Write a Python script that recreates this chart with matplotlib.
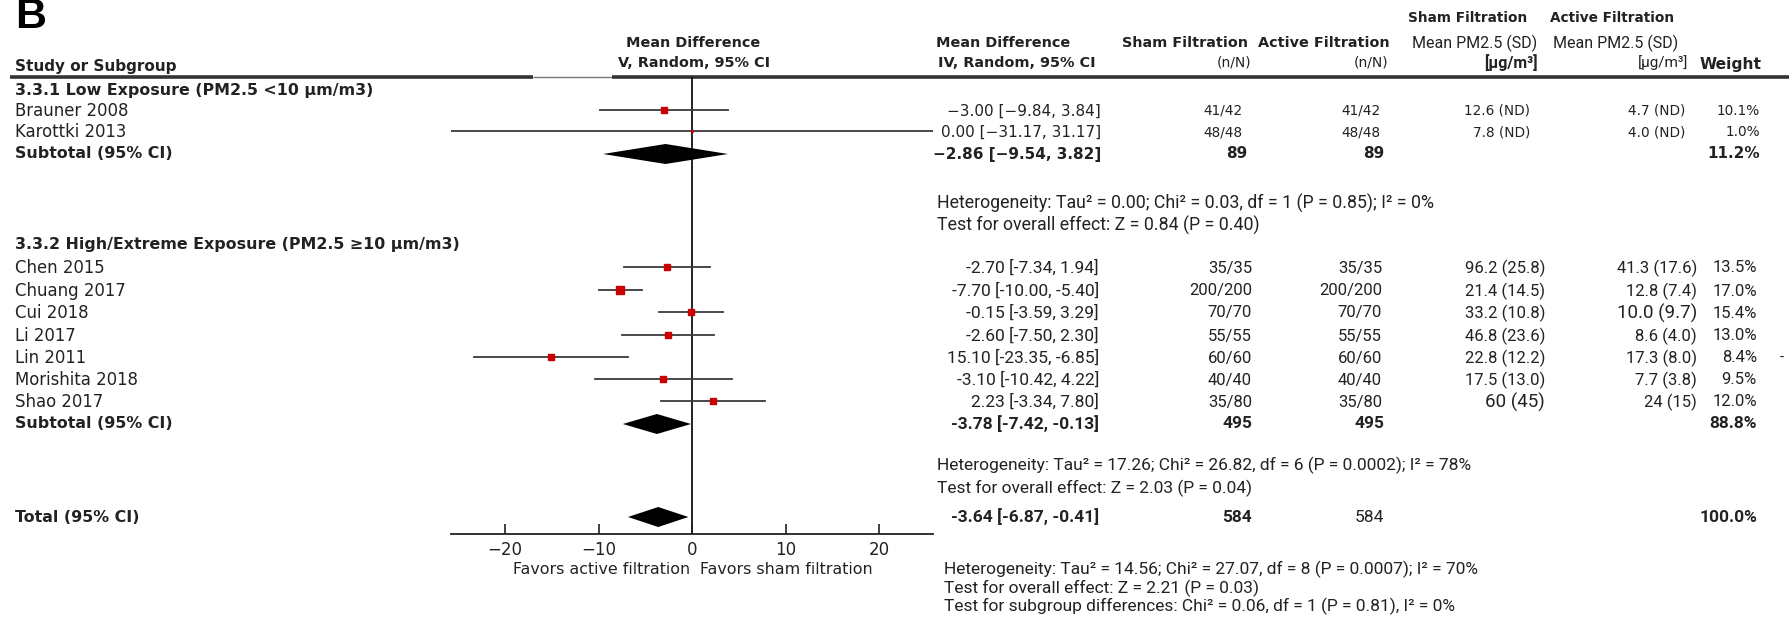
import matplotlib
matplotlib.use("Agg")
import matplotlib.pyplot as plt
from matplotlib import font_manager

# ---- data ----
studies = ['Brauner 2008', 'Karottki 2013', 'Chen 2015', 'Chuang 2017', 'Cui 2018',
           'Li 2017', 'Lin 2011', 'Morishita 2018', 'Shao 2017']
group = [0, 0, 1, 1, 1, 1, 1, 1, 1]
md = [-3.00, 0.00, -2.70, -7.70, -0.15, -2.60, -15.10, -3.10, 2.23]
ci_lo = [-9.84, -31.17, -7.34, -10.00, -3.59, -7.50, -23.35, -10.42, -3.34]
ci_hi = [3.84, 31.17, 1.94, -5.40, 3.29, 2.30, -6.85, 4.22, 7.80]
md_text = ['−3.00 [−9.84, 3.84]', '0.00 [−31.17, 31.17]', '-2.70 [-7.34, 1.94]',
           '-7.70 [-10.00, -5.40]', '-0.15 [-3.59, 3.29]', '-2.60 [-7.50, 2.30]',
           '15.10 [-23.35, -6.85]', '-3.10 [-10.42, 4.22]', '2.23 [-3.34, 7.80]']
sham_n = ['41/42', '48/48', '35/35', '200/200', '70/70', '55/55', '60/60', '40/40', '35/80']
active_n = ['41/42', '48/48', '35/35', '200/200', '70/70', '55/55', '60/60', '40/40', '35/80']
sham_pm = ['12.6 (ND)', '7.8 (ND)', '96.2 (25.8)', '21.4 (14.5)', '33.2 (10.8)',
           '46.8 (23.6)', '22.8 (12.2)', '17.5 (13.0)', '60 (45)']
active_pm = ['4.7 (ND)', '4.0 (ND)', '41.3 (17.6)', '12.8 (7.4)', '10.0 (9.7)',
             '8.6 (4.0)', '17.3 (8.0)', '7.7 (3.8)', '24 (15)']
weight = [10.1, 1.0, 13.5, 17.0, 15.4, 13.0, 8.4, 9.5, 12.0]
weight_text = ['10.1%', '1.0%', '13.5%', '17.0%', '15.4%', '13.0%', '8.4%', '9.5%', '12.0%']

group_titles = ['3.3.1 Low Exposure (PM2.5 <10 µm/m3)',
                '3.3.2 High/Extreme Exposure (PM2.5 ≥10 µm/m3)']

sub_labels = ['Subtotal (95% CI)', 'Subtotal (95% CI)', 'Total (95% CI)']
sub_md = [-2.86, -3.78, -3.64]
sub_lo = [-9.54, -7.42, -6.87]
sub_hi = [3.82, -0.13, -0.41]
sub_text = ['−2.86 [−9.54, 3.82]', '-3.78 [-7.42, -0.13]', '-3.64 [-6.87, -0.41]']
sub_sham = ['89', '495', '584']
sub_active = ['89', '495', '584']
sub_weight = ['11.2%', '88.8%', '100.0%']

stats = [
    ['Heterogeneity: Tau² = 0.00; Chi² = 0.03, df = 1 (P = 0.85); I² = 0%',
     'Test for overall effect: Z = 0.84 (P = 0.40)'],
    ['Heterogeneity: Tau² = 17.26; Chi² = 26.82, df = 6 (P = 0.0002); I² = 78%',
     'Test for overall effect: Z = 2.03 (P = 0.04)'],
    ['Heterogeneity: Tau² = 14.56; Chi² = 27.07, df = 8 (P = 0.0007); I² = 70%',
     'Test for overall effect: Z = 2.21 (P = 0.03)',
     'Test for subgroup differences: Chi² = 0.06, df = 1 (P = 0.81), I² = 0%'],
]
ticks = [-20, -10, 0, 10, 20]

# ---- layout (figure pixels) ----
W, H = 1789, 617
study_y = [111, 132, 268, 291, 313, 336, 358, 380, 402]
title_y = [90, 245]
sub_y = [154, 424, 517]
stat_y = [[203, 225], [465, 488], [569, 588, 606]]
ax_left, ax_right, ax_top, ax_bot = 451, 933, 77, 534

names = {f.name for f in font_manager.fontManager.ttflist}
NARROW = 'Liberation Sans Narrow' if 'Liberation Sans Narrow' in names else 'Roboto'
WIDE = 'DejaVu Sans'
INK = '#222222'

fig = plt.figure(figsize=(W / 100, H / 100), dpi=100)
tax = fig.add_axes([0, 0, 1, 1])
tax.set_xlim(0, W)
tax.set_ylim(H, 0)
tax.axis('off')


def txt(x, y, s, size=11, bold=False, ha='left', fam=WIDE):
    tax.text(x, y, s, fontsize=size, fontweight='bold' if bold else 'normal',
             ha=ha, va='center', family=fam, color=INK)


# panel letter
tax.text(15, 28, 'B', fontsize=31, fontweight='bold', family='Liberation Sans',
         va='baseline', color='black')

# headers
hs = 10.4
txt(15, 66, 'Study or Subgroup', 11, True)
txt(693, 43, 'Mean Difference', hs, True, 'center')
txt(694, 63, 'V, Random, 95% CI', hs, True, 'center')
txt(936, 43, 'Mean Difference', hs, True)
txt(938, 63, 'IV, Random, 95% CI', hs, True)
txt(1122, 43, 'Sham Filtration', hs, True)
txt(1251, 63, '(n/N)', 10, False, 'right')
txt(1258, 43, 'Active Filtration', hs, True)
txt(1388, 63, '(n/N)', 10, False, 'right')
txt(1408, 18, 'Sham Filtration', 9.8, True)
txt(1412, 43, 'Mean PM2.5 (SD)', 11.5, False, fam=NARROW)
txt(1538, 63, '[µg/m³]', 11.5, True, 'right', NARROW)
txt(1550, 18, 'Active Filtration', 9.8, True)
txt(1553, 43, 'Mean PM2.5 (SD)', 11.5, False, fam=NARROW)
txt(1688, 63, '[µg/m³]', 11, False, 'right', NARROW)
txt(1700, 64, 'Weight', 11.2, True)

# header rule
tax.plot([10, 533], [77, 77], color='#333333', lw=2.6, solid_capstyle='butt')
tax.plot([533, 612], [77, 77], color='#777777', lw=1.0, solid_capstyle='butt')
tax.plot([612, W], [77, 77], color='#333333', lw=2.6, solid_capstyle='butt')

# group titles
for t, y in zip(group_titles, title_y):
    txt(15, y, t, 11.4, True)

# study rows
col_x = [{'md': 1101, 'sham': 1242, 'act': 1380, 'spm': 1530, 'apm': 1685, 'w': 1760},
         {'md': 1099, 'sham': 1252, 'act': 1382, 'spm': 1545, 'apm': 1697, 'w': 1757}]
for i, name in enumerate(studies):
    y = study_y[i]
    g = group[i]
    c = col_x[g]
    txt(15, y, name, 11.9)
    if g == 0:
        txt(c['md'], y, md_text[i], 11, ha='right')
        for key, s in [('sham', sham_n[i]), ('act', active_n[i]), ('spm', sham_pm[i]),
                       ('apm', active_pm[i]), ('w', weight_text[i])]:
            txt(c[key], y, s, 9.8, ha='right')
    else:
        txt(c['md'], y, md_text[i], 12.5, ha='right', fam=NARROW)
        for key, s in [('sham', sham_n[i]), ('act', active_n[i]), ('spm', sham_pm[i]),
                       ('apm', active_pm[i]), ('w', weight_text[i])]:
            size = 12
            if s in ('60 (45)', '10.0 (9.7)'):
                size = 13.5
            txt(c[key], y, s, size, ha='right', fam=NARROW)
txt(1784, study_y[6], '-', 11, ha='right', fam=NARROW)

# subtotal rows
for k in range(3):
    y = sub_y[k]
    txt(15, y, sub_labels[k], 11.4, True)
    if k == 0:
        txt(1101, y, sub_text[k], 11, True, 'right')
        txt(1247, y, sub_sham[k], 11, True, 'right')
        txt(1384, y, sub_active[k], 11, True, 'right')
        txt(1760, y, sub_weight[k], 11, True, 'right')
    else:
        txt(1099, y, sub_text[k], 12.5, True, 'right', NARROW)
        txt(1252, y, sub_sham[k], 12.5, True, 'right', NARROW)
        txt(1384, y, sub_active[k], 12.5, k == 1, 'right', NARROW)
        txt(1757, y, sub_weight[k], 12.5, True, 'right', NARROW)

# heterogeneity / tests
for k, lines in enumerate(stats):
    x0 = 944 if k == 2 else 937
    fs = 12.8 if k == 0 else 12.5
    for s, y in zip(lines, stat_y[k]):
        txt(x0, y, s, fs, fam=NARROW)

# ---- forest plot ----
fax = fig.add_axes([ax_left / W, (H - ax_bot) / H, (ax_right - ax_left) / W,
                    (ax_bot - ax_top) / H])
fax.patch.set_alpha(0)
fax.set_xlim(-25.8, 25.75)
fax.set_ylim(ax_bot, ax_top)
for sp in ['left', 'right', 'top']:
    fax.spines[sp].set_visible(False)
fax.spines['bottom'].set_linewidth(1.3)
fax.spines['bottom'].set_color('#222222')
fax.set_yticks([])
fax.set_xticks(ticks)
fax.tick_params(axis='x', direction='in', length=7, width=1.2, labelsize=12,
                pad=5, colors='#222222')
fax.axvline(0, color='black', lw=1.2, zorder=1)

for i in range(len(studies)):
    y = study_y[i] - 1
    fax.plot([ci_lo[i], ci_hi[i]], [y, y], color='#3a3a3a', lw=1.3, zorder=2)
    fax.plot(md[i], y, 's', color='#cc0000', ms=1.25 * weight[i] ** 0.5,
             mec='#cc0000', zorder=3)

for k in range(3):
    y = sub_y[k]
    hh = 10
    fax.fill([sub_lo[k], sub_md[k], sub_hi[k], sub_md[k]], [y, y - hh, y, y + hh],
             color='black', lw=0, zorder=3)

fax.text(-0.25, 569, 'Favors active filtration', ha='right', va='center',
         fontsize=11.4, color=INK, clip_on=False)
fax.text(0.85, 569, 'Favors sham filtration', ha='left', va='center',
         fontsize=11.4, color=INK, clip_on=False)

fig.savefig('out.png', dpi=100)
